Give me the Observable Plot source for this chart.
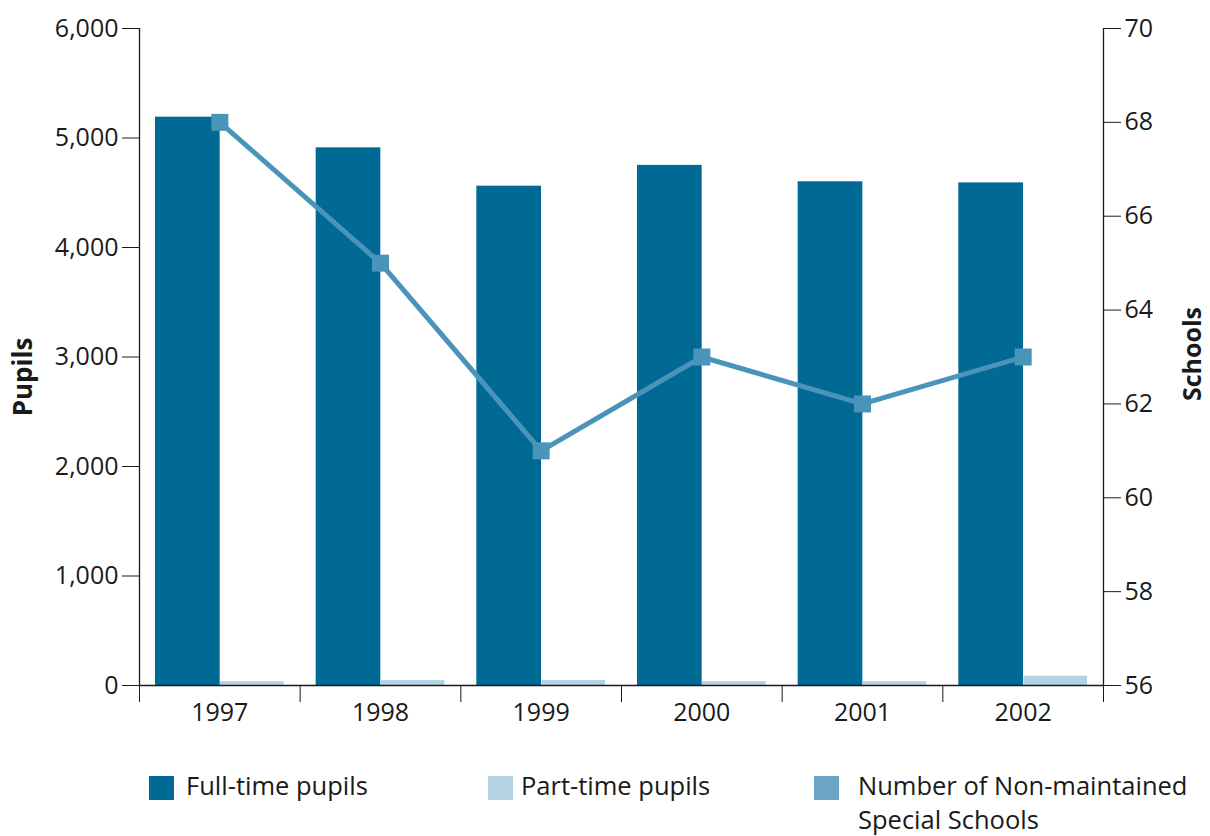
<!DOCTYPE html>
<html>
<head>
<meta charset="utf-8">
<script src="https://cdn.jsdelivr.net/npm/d3@7"></script>
<script src="https://cdn.jsdelivr.net/npm/@observablehq/plot@0.6"></script>
<style>
  html, body { margin: 0; padding: 0; background: #fff; }
  body { font-family: "Open Sans", sans-serif; color: #1a1a1a; }
  #wrap { position: relative; width: 1210px; height: 836px; overflow: hidden; }
  #legend { position: absolute; left: 0; top: 0; width: 1210px; height: 836px; pointer-events: none; }
  .sw { position: absolute; width: 25px; height: 24px; }
  .lt { position: absolute; font-size: 25.5px; line-height: 34px; white-space: nowrap; }
</style>
</head>
<body>
<div id="wrap">
  <div id="chart"></div>
  <div id="legend"></div>
</div>
<script>
const years = ["1997", "1998", "1999", "2000", "2001", "2002"];
const fullTime = [5190, 4910, 4560, 4750, 4600, 4590];
const partTime = [35, 45, 45, 35, 35, 85];
const schools = [68, 65, 61, 63, 62, 63];
const pupilTicks = [0, 1000, 2000, 3000, 4000, 5000, 6000];
const schoolTicks = [56, 58, 60, 62, 64, 66, 68, 70];
const seriesNames = ["Full-time pupils", "Part-time pupils", "Number of Non-maintained\nSpecial Schools"];
const colors = ["#006994", "#b4d2e3", "#6aa5c6"];
const lineColor = "#4b94b9";

const sMin = 56, sMax = 70, pMax = 6000;
const toY = s => (s - sMin) / (sMax - sMin) * pMax;
const fromY = y => sMin + y / pMax * (sMax - sMin);

const data = years.map((year, i) => ({i, year, full: fullTime[i], part: partTime[i], schools: schools[i]}));

const plot = Plot.plot({
  width: 1210,
  height: 745,
  marginLeft: 139,
  marginRight: 107,
  marginTop: 28,
  marginBottom: 60,
  style: {fontFamily: "'Open Sans', sans-serif", fontSize: "25px", color: "#1a1a1a", background: "white"},
  x: {domain: [0, years.length], axis: null},
  y: {domain: [0, pMax], axis: null},
  marks: [
    Plot.rectY(data, {x1: d => d.i, x2: d => d.i + 1, y: "full", fill: colors[0], insetLeft: 16, insetRight: 80}),
    Plot.rectY(data, {x1: d => d.i, x2: d => d.i + 1, y: "part", fill: colors[1], insetLeft: 81, insetRight: 16}),
    Plot.axisY({anchor: "left", ticks: pupilTicks, tickSize: 17, tickPadding: 4, tickFormat: d3.format(","), label: null, stroke: "#1a1a1a"}),
    Plot.axisY(schoolTicks.map(toY), {anchor: "right", tickSize: 17, tickPadding: 4, tickFormat: d => String(Math.round(fromY(d))), label: null, stroke: "#1a1a1a"}),
    Plot.axisX(d3.range(0, years.length + 1), {anchor: "bottom", tickSize: 17, tickFormat: () => "", label: null, stroke: "#1a1a1a"}),
    Plot.axisX(years.map((y, i) => i + 0.5), {anchor: "bottom", tickSize: 0, tickPadding: 18, tickFormat: d => years[Math.floor(d)], label: null}),
    Plot.ruleX([0, years.length], {stroke: "#1a1a1a", strokeWidth: 1.3}),
    Plot.ruleY([0], {stroke: "#1a1a1a", strokeWidth: 1.3}),
    Plot.line(data, {x: d => d.i + 0.5, y: d => toY(d.schools), stroke: lineColor, strokeWidth: 5}),
    Plot.dot(data, {x: d => d.i + 0.5, y: d => toY(d.schools), symbol: "square", r: 9.6, fill: lineColor, stroke: "none"}),
    Plot.text(["Pupils"], {frameAnchor: "left", dx: -116, dy: 20, rotate: -90, textAnchor: "middle", fontWeight: "bold", fontSize: 26, letterSpacing: "1px", fill: "#1a1a1a"}),
    Plot.text(["Schools"], {frameAnchor: "right", dx: 89, dy: -3, rotate: -90, textAnchor: "middle", fontWeight: "bold", fontSize: 25, letterSpacing: "0.5px", fill: "#1a1a1a"})
  ]
});
document.getElementById("chart").appendChild(plot);

const legend = document.getElementById("legend");
const pos = [{sx: 149, tx: 186}, {sx: 488, tx: 521}, {sx: 814, tx: 858}];
seriesNames.forEach((name, k) => {
  const sw = document.createElement("div");
  sw.className = "sw";
  sw.style.left = pos[k].sx + "px";
  sw.style.top = "776px";
  sw.style.background = colors[k];
  legend.appendChild(sw);
  const t = document.createElement("div");
  t.className = "lt";
  t.style.left = pos[k].tx + "px";
  t.style.top = "768px";
  t.innerHTML = name.split("\n").join("<br>");
  legend.appendChild(t);
});
</script>
</body>
</html>
